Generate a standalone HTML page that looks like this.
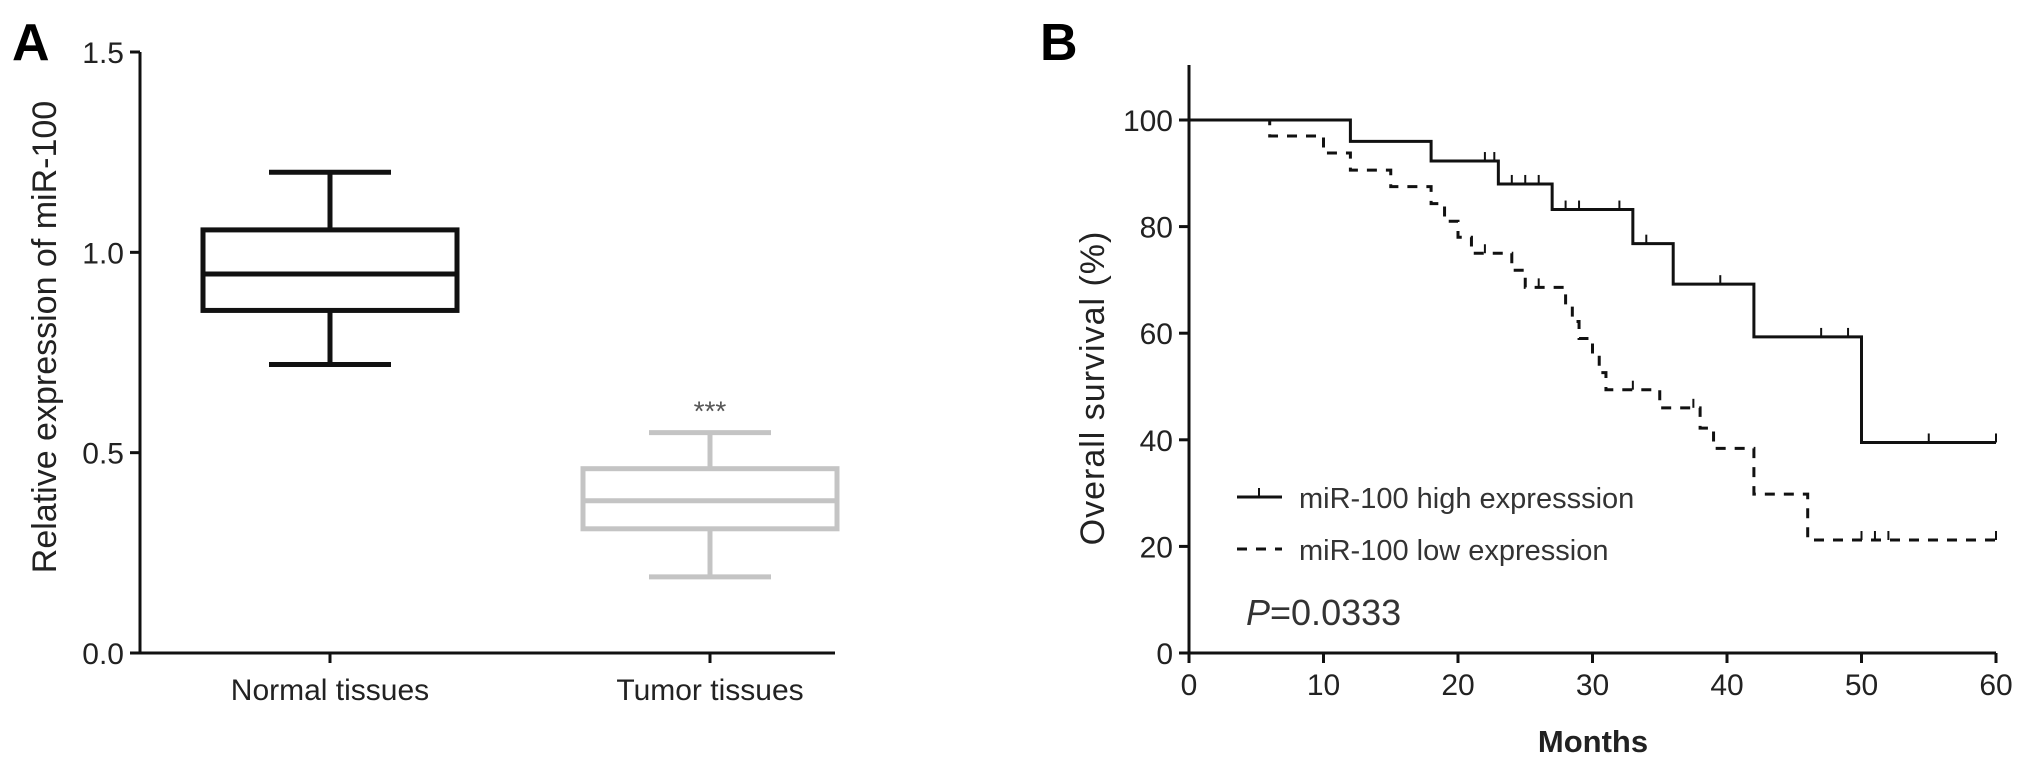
<!DOCTYPE html>
<html><head><meta charset="utf-8"><style>
body{margin:0;background:#fff}
svg{display:block;font-family:"Liberation Sans",Arial,sans-serif}
</style></head><body>
<svg id="fig" width="2031" height="767" viewBox="0 0 2031 767" xmlns="http://www.w3.org/2000/svg">
<text x="12" y="60" font-size="52" font-weight="bold">A</text>
<text x="1040" y="60" font-size="52" font-weight="bold">B</text>
<g id="pa"></g>
<g id="pb"></g>
</svg>
<script>
// Panel A data
const groups = ["Normal tissues", "Tumor tissues"];
const whiskLow = [0.72, 0.19];
const q1 = [0.855, 0.31];
const median = [0.946, 0.38];
const q3 = [1.056, 0.46];
const whiskHigh = [1.2, 0.55];
const boxColors = ["#111", "#c4c4c4"];
const yTicksA = [0.0, 0.5, 1.0, 1.5];
// Panel B data
const highT = [0, 12, 18, 23, 27, 33, 36, 42, 50, 60];
const highS = [100, 96, 92.3, 88, 83.2, 76.8, 69.2, 59.3, 39.5, 39.5];
const highCensT = [22, 22.7, 24, 25, 26, 28, 29, 32, 34, 39.5, 47, 49, 55, 60];
const lowT = [0, 6, 10, 12, 15, 18, 19, 20, 21, 24, 25, 28, 28.5, 29, 30, 30.5, 31, 35, 38, 39, 42, 46, 60];
const lowS = [100, 97, 93.8, 90.6, 87.5, 84.3, 81, 78, 75, 71.8, 68.6, 65.4, 62.2, 59, 55.8, 52.6, 49.4, 46, 42.2, 38.4, 29.8, 21.2, 21.2];
const lowCensT = [22, 26, 33, 37.5, 50, 51, 52, 60];
const xTicksB = [0, 10, 20, 30, 40, 50, 60];
const yTicksB = [0, 20, 40, 60, 80, 100];

const NS = "http://www.w3.org/2000/svg";
function mk(parent, tag, attrs, txt){const e=document.createElementNS(NS,tag);for(const k in attrs)e.setAttribute(k,attrs[k]);if(txt!==undefined)e.textContent=txt;parent.appendChild(e);return e;}

// ---- Panel A ----
const pa = document.getElementById('pa');
const ax0=140, ay0=653, ay15=52;
const yA = v => ay0 - (ay0-ay15)*v/1.5;
const xA = i => [330, 710][i];
let l=mk(pa,'line',{x1:ax0,y1:ay15,x2:ax0,y2:ay0,stroke:'#111','stroke-width':3});


l=mk(pa,'line',{x1:ax0,y1:ay0,x2:835,y2:ay0,stroke:'#111','stroke-width':3});


yTicksA.forEach(v=>{
  mk(pa,'line',{x1:ax0-10,y1:yA(v),x2:ax0,y2:yA(v),stroke:'#111','stroke-width':3});
  const t=mk(pa,'text',{x:ax0-16,y:yA(v)+11,'font-size':30,'text-anchor':'end',fill:'#222'},v.toFixed(1));
  
  
});
groups.forEach((g,i)=>{
  const cx=xA(i), c=boxColors[i], hw=127, cw=61;
  const gg=mk(pa,'g',{stroke:c,'stroke-width':5,fill:'none'});
  
  
  mk(gg,'rect',{x:cx-hw,y:yA(q3[i]),width:2*hw,height:yA(q1[i])-yA(q3[i])});
  mk(gg,'line',{x1:cx-hw,x2:cx+hw,y1:yA(median[i]),y2:yA(median[i])});
  mk(gg,'line',{x1:cx,x2:cx,y1:yA(q3[i]),y2:yA(whiskHigh[i])});
  mk(gg,'line',{x1:cx,x2:cx,y1:yA(q1[i]),y2:yA(whiskLow[i])});
  mk(gg,'line',{x1:cx-cw,x2:cx+cw,y1:yA(whiskHigh[i]),y2:yA(whiskHigh[i])});
  mk(gg,'line',{x1:cx-cw,x2:cx+cw,y1:yA(whiskLow[i]),y2:yA(whiskLow[i])});
  mk(pa,'line',{x1:cx,x2:cx,y1:ay0,y2:ay0+10,stroke:'#111','stroke-width':3});
  const t=mk(pa,'text',{x:cx,y:ay0+47,'font-size':30,'text-anchor':'middle',fill:'#222'},g);
  
  
});
let s=mk(pa,'text',{x:xA(1),y:yA(whiskHigh[1])-12,'font-size':28,'text-anchor':'middle',fill:'#555'},'***');


s=mk(pa,'text',{x:0,y:0,'font-size':34,'text-anchor':'middle',fill:'#222',transform:'translate(56,337) rotate(-90)'},'Relative expression of miR-100');



// ---- Panel B ----
const pb=document.getElementById('pb');
const bx0=1189, bx60=1996, by0=653, by100=120;
const xB=t=>bx0+(bx60-bx0)*t/60;
const yB=v=>by0-(by0-by100)*v/100;
l=mk(pb,'line',{x1:bx0,y1:65,x2:bx0,y2:by0,stroke:'#111','stroke-width':3});


l=mk(pb,'line',{x1:bx0,y1:by0,x2:bx60,y2:by0,stroke:'#111','stroke-width':3});


yTicksB.forEach(v=>{
  mk(pb,'line',{x1:bx0-10,x2:bx0,y1:yB(v),y2:yB(v),stroke:'#111','stroke-width':3});
  const t=mk(pb,'text',{x:bx0-16,y:yB(v)+11,'font-size':30,'text-anchor':'end',fill:'#222'},v);
  
  
});
xTicksB.forEach(v=>{
  mk(pb,'line',{x1:xB(v),x2:xB(v),y1:by0,y2:by0+10,stroke:'#111','stroke-width':3});
  const t=mk(pb,'text',{x:xB(v),y:by0+42,'font-size':30,'text-anchor':'middle',fill:'#222'},v);
  
  
});
function stepPath(T,S){let d='M'+xB(T[0])+','+yB(S[0]);for(let i=1;i<T.length;i++){d+=' H'+xB(T[i])+' V'+yB(S[i]);}return d;}
function survAt(T,S,t){let v=S[0];for(let i=0;i<T.length;i++){if(T[i]<=t)v=S[i];}return v;}
let p=mk(pb,'path',{d:stepPath(highT,highS),stroke:'#111','stroke-width':3,fill:'none'});


p=mk(pb,'path',{d:stepPath(lowT,lowS),stroke:'#111','stroke-width':3,fill:'none','stroke-dasharray':'10 9'});


highCensT.forEach(t=>{const y=yB(survAt(highT,highS,t));const c=mk(pb,'line',{x1:xB(t),x2:xB(t),y1:y-9,y2:y,stroke:'#111','stroke-width':2});
  
  });
lowCensT.forEach(t=>{const y=yB(survAt(lowT,lowS,t));const c=mk(pb,'line',{x1:xB(t),x2:xB(t),y1:y-9,y2:y,stroke:'#111','stroke-width':2});
  
  });
// legend
let lg=mk(pb,'g',{});


mk(lg,'line',{x1:1237,x2:1282,y1:497,y2:497,stroke:'#111','stroke-width':3});
mk(lg,'line',{x1:1259,x2:1259,y1:488,y2:497,stroke:'#111','stroke-width':2});
mk(lg,'text',{x:1299,y:508,'font-size':29,fill:'#333'},'miR-100 high expresssion');
mk(lg,'line',{x1:1237,x2:1282,y1:549,y2:549,stroke:'#111','stroke-width':3,'stroke-dasharray':'10 9'});
mk(lg,'text',{x:1299,y:560,'font-size':29,fill:'#333'},'miR-100 low expression');
s=mk(pb,'text',{x:1246,y:625,'font-size':36,fill:'#333'});


mk(s,'tspan',{'font-style':'italic'},'P');
mk(s,'tspan',{},'=0.0333');
s=mk(pb,'text',{x:1593,y:752,'font-size':31,'font-weight':'bold','text-anchor':'middle',fill:'#222'},'Months');


s=mk(pb,'text',{x:0,y:0,'font-size':34,'text-anchor':'middle',fill:'#222','letter-spacing':'1',transform:'translate(1104,388) rotate(-90)','xml:space':'preserve'},'Overall survival  (%)');


</script>
</body></html>
